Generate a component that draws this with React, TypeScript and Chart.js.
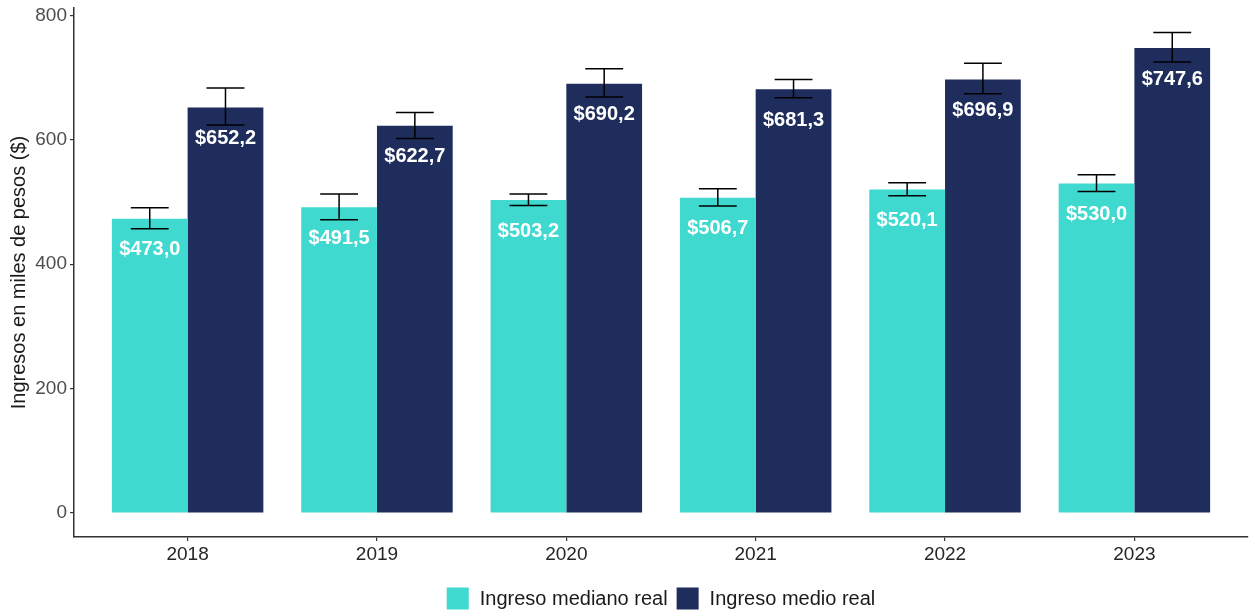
import React, { useEffect, useRef } from 'react';
import { Chart, registerables } from 'chart.js';

Chart.register(...registerables);

const years = ['2018', '2019', '2020', '2021', '2022', '2023'];
const seriesNames = ['Ingreso mediano real', 'Ingreso medio real'];
const medianValues = [473.0, 491.5, 503.2, 506.7, 520.1, 530.0];
const meanValues = [652.2, 622.7, 690.2, 681.3, 696.9, 747.6];
const medianLow = [457, 471.5, 494.5, 493.5, 510, 517];
const medianHigh = [491, 513, 513, 521.5, 531, 544];
const meanLow = [624, 602, 669, 667.5, 674, 725];
const meanHigh = [683.5, 644, 714.5, 697, 723, 772.5];
const yTicks = [0, 200, 400, 600, 800];

const colors = ['#40D9D0', '#1E2D5C'];
const FONT = '"Liberation Sans", Arial, Helvetica, sans-serif';

const fmt = (v: number) => '$' + v.toFixed(1).replace('.', ',');

const overlayPlugin = {
  id: 'overlay',
  afterDatasetsDraw(chart: any) {
    const { ctx } = chart;
    const yScale = chart.scales.y;
    const lows = [medianLow, meanLow];
    const highs = [medianHigh, meanHigh];
    ctx.save();
    chart.data.datasets.forEach((ds: any, di: number) => {
      const meta = chart.getDatasetMeta(di);
      meta.data.forEach((bar: any, i: number) => {
        const v = ds.data[i].y;
        ctx.fillStyle = '#ffffff';
        ctx.font = 'bold 20px ' + FONT;
        ctx.textAlign = 'center';
        ctx.textBaseline = 'middle';
        ctx.fillText(fmt(v), bar.x, bar.y + 31);
        const yl = yScale.getPixelForValue(lows[di][i]);
        const yh = yScale.getPixelForValue(highs[di][i]);
        const half = bar.width * 0.25;
        ctx.strokeStyle = '#000000';
        ctx.lineWidth = 1.5;
        ctx.beginPath();
        ctx.moveTo(bar.x, yl);
        ctx.lineTo(bar.x, yh);
        ctx.moveTo(bar.x - half, yl);
        ctx.lineTo(bar.x + half, yl);
        ctx.moveTo(bar.x - half, yh);
        ctx.lineTo(bar.x + half, yh);
        ctx.stroke();
      });
    });
    ctx.restore();
  },
  afterDraw(chart: any) {
    const { ctx, chartArea } = chart;
    ctx.save();
    ctx.font = '20px ' + FONT;
    const box = 22;
    const gapText = 11;
    const gapItem = 9;
    const names = chart.data.datasets.map((d: any) => d.label);
    const widths = names.map((n: string) => box + gapText + ctx.measureText(n).width);
    const total = widths.reduce((a: number, b: number) => a + b, 0) + gapItem * (names.length - 1);
    let x = (chartArea.left + chartArea.right) / 2 - total / 2;
    const cy = 598.5;
    names.forEach((n: string, i: number) => {
      ctx.fillStyle = chart.data.datasets[i].backgroundColor;
      ctx.fillRect(x, cy - box / 2, box, box);
      ctx.fillStyle = '#1a1a1a';
      ctx.textAlign = 'left';
      ctx.textBaseline = 'middle';
      ctx.fillText(n, x + box + gapText, cy + 1);
      x += widths[i] + gapItem;
    });
    ctx.restore();
  },
};

export default function App() {
  const ref = useRef<HTMLCanvasElement>(null);
  useEffect(() => {
    Chart.defaults.font.family = FONT;
    const chart = new Chart(ref.current as HTMLCanvasElement, {
      type: 'bar',
      data: {
        datasets: [
          {
            label: seriesNames[0],
            data: medianValues.map((v, i) => ({ x: i, y: v })),
            backgroundColor: colors[0],
            borderWidth: 0,
          },
          {
            label: seriesNames[1],
            data: meanValues.map((v, i) => ({ x: i, y: v })),
            backgroundColor: colors[1],
            borderWidth: 0,
          },
        ],
      } as any,
      options: {
        responsive: false,
        animation: false,
        categoryPercentage: 0.8,
        barPercentage: 1.0,
        layout: { padding: { top: 8, right: 5, bottom: 45, left: 0 } },
        plugins: {
          legend: { display: false },
          tooltip: { enabled: false },
        },
        scales: {
          x: {
            type: 'linear',
            min: -0.6,
            max: 5.6,
            offset: false,
            afterBuildTicks: (scale: any) => {
              scale.ticks = years.map((_, i) => ({ value: i }));
            },
            afterFit: (scale: any) => {
              scale.height = 30;
              scale.paddingLeft = 0;
              scale.paddingRight = 0;
            },
            ticks: {
              callback: (v: any) => years[Math.round(Number(v))] ?? '',
              color: '#262626',
              font: { size: 19, family: FONT },
              padding: 2,
              autoSkip: false,
              maxRotation: 0,
            },
            grid: {
              display: true,
              offset: false,
              drawOnChartArea: false,
              drawTicks: true,
              tickLength: 4,
              color: '#333333',
              lineWidth: 1.2,
            },
            border: { display: true, color: '#333333', width: 1.5 },
          },
          y: {
            type: 'linear',
            min: -38.6,
            max: 812,
            afterBuildTicks: (scale: any) => {
              scale.ticks = yTicks.map((v) => ({ value: v }));
            },
            afterFit: (scale: any) => {
              scale.width = 74;
              scale.paddingTop = 0;
              scale.paddingBottom = 0;
            },
            ticks: {
              color: '#4d4d4d',
              font: { size: 19, family: FONT },
              padding: 3,
            },
            grid: {
              display: true,
              offset: false,
              drawOnChartArea: false,
              drawTicks: true,
              tickLength: 4,
              color: '#333333',
              lineWidth: 1.2,
            },
            border: { display: true, color: '#333333', width: 1.5 },
            title: {
              display: true,
              text: 'Ingresos en miles de pesos ($)',
              color: '#1a1a1a',
              font: { size: 20, family: FONT },
              padding: { top: 7, bottom: 0 },
            },
          },
        },
      } as any,
      plugins: [overlayPlugin],
    });
    return () => chart.destroy();
  }, []);
  return (
    <div style={{ position: 'fixed', left: 0, top: 0, width: 1253, height: 612, background: '#ffffff' }}>
      <canvas ref={ref} width={1253} height={612} />
    </div>
  );
}
